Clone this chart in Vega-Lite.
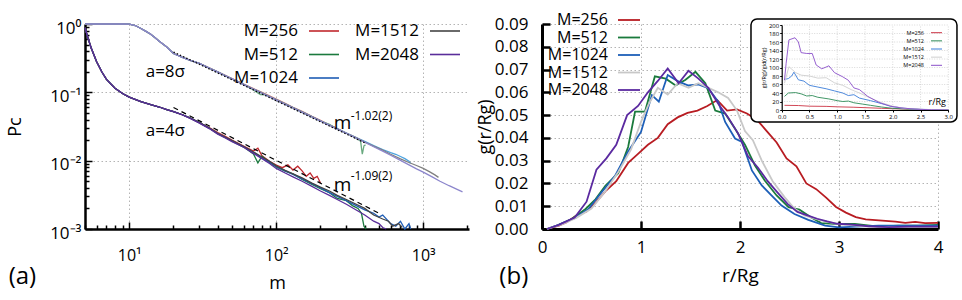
{
"$schema":"https://vega.github.io/schema/vega-lite/v6.json",
"background":"white",
"padding":{"left":6,"top":12,"right":0,"bottom":0},
"config":{"font":"Open Sans","view":{"stroke":null},
"axis":{"labelFont":"Open Sans","titleFont":"Open Sans","titleFontWeight":"normal","domainColor":"#000","tickColor":"#000","labelColor":"#000","titleColor":"#000","gridColor":"#b4b4b4","gridDash":[1.5,2.5],"gridWidth":1},
"legend":{"labelFont":"Open Sans","labelColor":"#000","padding":0},
"title":{"font":"Open Sans","fontWeight":"normal","color":"#000"}},
"datasets":{
"pc":[
{"a":"8","M":"M=256","m":5,"P":1},{"a":"8","M":"M=256","m":7,"P":1},{"a":"8","M":"M=256","m":9,"P":1},{"a":"8","M":"M=256","m":10,"P":0.995},{"a":"8","M":"M=256","m":11,"P":0.95},{"a":"8","M":"M=256","m":12,"P":0.86},{"a":"8","M":"M=256","m":13,"P":0.78},{"a":"8","M":"M=256","m":14,"P":0.71},{"a":"8","M":"M=256","m":15,"P":0.63},{"a":"8","M":"M=256","m":16,"P":0.56},{"a":"8","M":"M=256","m":18,"P":0.46},{"a":"8","M":"M=256","m":20,"P":0.372},{"a":"8","M":"M=256","m":23,"P":0.326},{"a":"8","M":"M=256","m":26,"P":0.294},{"a":"8","M":"M=256","m":30,"P":0.266},{"a":"8","M":"M=256","m":35,"P":0.228},{"a":"8","M":"M=256","m":40,"P":0.2},{"a":"8","M":"M=256","m":45,"P":0.177},{"a":"8","M":"M=256","m":50,"P":0.159},{"a":"8","M":"M=256","m":60,"P":0.132},{"a":"8","M":"M=256","m":70,"P":0.113},{"a":"8","M":"M=256","m":80,"P":0.1},{"a":"8","M":"M=256","m":90,"P":0.089},{"a":"8","M":"M=256","m":100,"P":0.0795},{"a":"8","M":"M=256","m":115,"P":0.069},{"a":"8","M":"M=256","m":130,"P":0.0605},{"a":"8","M":"M=256","m":150,"P":0.0525},{"a":"8","M":"M=256","m":175,"P":0.0445},{"a":"8","M":"M=256","m":200,"P":0.039},{"a":"8","M":"M=256","m":230,"P":0.0335},{"a":"8","M":"M=256","m":256,"P":0.03},
{"a":"8","M":"M=512","m":5,"P":1},{"a":"8","M":"M=512","m":7,"P":1},{"a":"8","M":"M=512","m":9,"P":1},{"a":"8","M":"M=512","m":10,"P":0.995},{"a":"8","M":"M=512","m":11,"P":0.95},{"a":"8","M":"M=512","m":12,"P":0.86},{"a":"8","M":"M=512","m":13,"P":0.78},{"a":"8","M":"M=512","m":14,"P":0.71},{"a":"8","M":"M=512","m":15,"P":0.63},{"a":"8","M":"M=512","m":16,"P":0.56},{"a":"8","M":"M=512","m":18,"P":0.46},{"a":"8","M":"M=512","m":20,"P":0.37},{"a":"8","M":"M=512","m":23,"P":0.325},{"a":"8","M":"M=512","m":26,"P":0.293},{"a":"8","M":"M=512","m":30,"P":0.265},{"a":"8","M":"M=512","m":35,"P":0.226},{"a":"8","M":"M=512","m":40,"P":0.198},{"a":"8","M":"M=512","m":45,"P":0.175},{"a":"8","M":"M=512","m":50,"P":0.157},{"a":"8","M":"M=512","m":60,"P":0.13},{"a":"8","M":"M=512","m":70,"P":0.108},{"a":"8","M":"M=512","m":78,"P":0.093},{"a":"8","M":"M=512","m":85,"P":0.092},{"a":"8","M":"M=512","m":100,"P":0.077},{"a":"8","M":"M=512","m":115,"P":0.067},{"a":"8","M":"M=512","m":130,"P":0.059},{"a":"8","M":"M=512","m":150,"P":0.051},{"a":"8","M":"M=512","m":175,"P":0.0436},{"a":"8","M":"M=512","m":200,"P":0.0378},{"a":"8","M":"M=512","m":230,"P":0.034},{"a":"8","M":"M=512","m":260,"P":0.0288},{"a":"8","M":"M=512","m":300,"P":0.0252},{"a":"8","M":"M=512","m":330,"P":0.0228},{"a":"8","M":"M=512","m":360,"P":0.0205},{"a":"8","M":"M=512","m":375,"P":0.0192},{"a":"8","M":"M=512","m":385,"P":0.0125},{"a":"8","M":"M=512","m":395,"P":0.0165},{"a":"8","M":"M=512","m":405,"P":0.017},
{"a":"8","M":"M=1024","m":5,"P":1},{"a":"8","M":"M=1024","m":7,"P":1},{"a":"8","M":"M=1024","m":9,"P":1},{"a":"8","M":"M=1024","m":10,"P":0.995},{"a":"8","M":"M=1024","m":11,"P":0.95},{"a":"8","M":"M=1024","m":12,"P":0.86},{"a":"8","M":"M=1024","m":13,"P":0.78},{"a":"8","M":"M=1024","m":14,"P":0.71},{"a":"8","M":"M=1024","m":15,"P":0.63},{"a":"8","M":"M=1024","m":16,"P":0.56},{"a":"8","M":"M=1024","m":18,"P":0.46},{"a":"8","M":"M=1024","m":20,"P":0.37},{"a":"8","M":"M=1024","m":23,"P":0.325},{"a":"8","M":"M=1024","m":26,"P":0.293},{"a":"8","M":"M=1024","m":30,"P":0.266},{"a":"8","M":"M=1024","m":35,"P":0.227},{"a":"8","M":"M=1024","m":40,"P":0.199},{"a":"8","M":"M=1024","m":45,"P":0.176},{"a":"8","M":"M=1024","m":50,"P":0.158},{"a":"8","M":"M=1024","m":60,"P":0.131},{"a":"8","M":"M=1024","m":70,"P":0.112},{"a":"8","M":"M=1024","m":80,"P":0.098},{"a":"8","M":"M=1024","m":90,"P":0.087},{"a":"8","M":"M=1024","m":100,"P":0.078},{"a":"8","M":"M=1024","m":115,"P":0.0677},{"a":"8","M":"M=1024","m":130,"P":0.0598},{"a":"8","M":"M=1024","m":150,"P":0.0517},{"a":"8","M":"M=1024","m":175,"P":0.0441},{"a":"8","M":"M=1024","m":200,"P":0.0384},{"a":"8","M":"M=1024","m":230,"P":0.0333},{"a":"8","M":"M=1024","m":260,"P":0.0294},{"a":"8","M":"M=1024","m":300,"P":0.0254},{"a":"8","M":"M=1024","m":350,"P":0.0217},{"a":"8","M":"M=1024","m":400,"P":0.0192},{"a":"8","M":"M=1024","m":460,"P":0.0166},{"a":"8","M":"M=1024","m":530,"P":0.0145},{"a":"8","M":"M=1024","m":600,"P":0.0131},{"a":"8","M":"M=1024","m":650,"P":0.0124},{"a":"8","M":"M=1024","m":700,"P":0.0115},{"a":"8","M":"M=1024","m":750,"P":0.0107},{"a":"8","M":"M=1024","m":800,"P":0.0098},{"a":"8","M":"M=1024","m":820,"P":0.0091},
{"a":"8","M":"M=1512","m":5,"P":1},{"a":"8","M":"M=1512","m":7,"P":1},{"a":"8","M":"M=1512","m":9,"P":1},{"a":"8","M":"M=1512","m":10,"P":0.995},{"a":"8","M":"M=1512","m":11,"P":0.95},{"a":"8","M":"M=1512","m":12,"P":0.86},{"a":"8","M":"M=1512","m":13,"P":0.78},{"a":"8","M":"M=1512","m":14,"P":0.71},{"a":"8","M":"M=1512","m":15,"P":0.63},{"a":"8","M":"M=1512","m":16,"P":0.56},{"a":"8","M":"M=1512","m":18,"P":0.46},{"a":"8","M":"M=1512","m":20,"P":0.37},{"a":"8","M":"M=1512","m":23,"P":0.325},{"a":"8","M":"M=1512","m":26,"P":0.293},{"a":"8","M":"M=1512","m":30,"P":0.266},{"a":"8","M":"M=1512","m":35,"P":0.227},{"a":"8","M":"M=1512","m":40,"P":0.199},{"a":"8","M":"M=1512","m":45,"P":0.176},{"a":"8","M":"M=1512","m":50,"P":0.158},{"a":"8","M":"M=1512","m":60,"P":0.131},{"a":"8","M":"M=1512","m":70,"P":0.112},{"a":"8","M":"M=1512","m":80,"P":0.098},{"a":"8","M":"M=1512","m":90,"P":0.087},{"a":"8","M":"M=1512","m":100,"P":0.078},{"a":"8","M":"M=1512","m":115,"P":0.0677},{"a":"8","M":"M=1512","m":130,"P":0.0598},{"a":"8","M":"M=1512","m":150,"P":0.0517},{"a":"8","M":"M=1512","m":175,"P":0.0441},{"a":"8","M":"M=1512","m":200,"P":0.0384},{"a":"8","M":"M=1512","m":230,"P":0.0333},{"a":"8","M":"M=1512","m":260,"P":0.0294},{"a":"8","M":"M=1512","m":300,"P":0.0254},{"a":"8","M":"M=1512","m":350,"P":0.0217},{"a":"8","M":"M=1512","m":400,"P":0.0187},{"a":"8","M":"M=1512","m":460,"P":0.0163},{"a":"8","M":"M=1512","m":530,"P":0.0143},{"a":"8","M":"M=1512","m":600,"P":0.0124},{"a":"8","M":"M=1512","m":700,"P":0.0106},{"a":"8","M":"M=1512","m":800,"P":0.0094},{"a":"8","M":"M=1512","m":900,"P":0.0085},{"a":"8","M":"M=1512","m":1000,"P":0.0077},{"a":"8","M":"M=1512","m":1100,"P":0.0069},{"a":"8","M":"M=1512","m":1200,"P":0.0062},{"a":"8","M":"M=1512","m":1270,"P":0.0057},
{"a":"8","M":"M=2048","m":5,"P":1},{"a":"8","M":"M=2048","m":7,"P":1},{"a":"8","M":"M=2048","m":9,"P":1},{"a":"8","M":"M=2048","m":10,"P":0.995},{"a":"8","M":"M=2048","m":11,"P":0.95},{"a":"8","M":"M=2048","m":12,"P":0.86},{"a":"8","M":"M=2048","m":13,"P":0.78},{"a":"8","M":"M=2048","m":14,"P":0.71},{"a":"8","M":"M=2048","m":15,"P":0.63},{"a":"8","M":"M=2048","m":16,"P":0.56},{"a":"8","M":"M=2048","m":18,"P":0.46},{"a":"8","M":"M=2048","m":20,"P":0.37},{"a":"8","M":"M=2048","m":23,"P":0.325},{"a":"8","M":"M=2048","m":26,"P":0.293},{"a":"8","M":"M=2048","m":30,"P":0.265},{"a":"8","M":"M=2048","m":35,"P":0.226},{"a":"8","M":"M=2048","m":40,"P":0.198},{"a":"8","M":"M=2048","m":45,"P":0.175},{"a":"8","M":"M=2048","m":50,"P":0.157},{"a":"8","M":"M=2048","m":60,"P":0.13},{"a":"8","M":"M=2048","m":70,"P":0.111},{"a":"8","M":"M=2048","m":80,"P":0.097},{"a":"8","M":"M=2048","m":90,"P":0.086},{"a":"8","M":"M=2048","m":100,"P":0.077},{"a":"8","M":"M=2048","m":115,"P":0.0668},{"a":"8","M":"M=2048","m":130,"P":0.059},{"a":"8","M":"M=2048","m":150,"P":0.051},{"a":"8","M":"M=2048","m":175,"P":0.0435},{"a":"8","M":"M=2048","m":200,"P":0.0379},{"a":"8","M":"M=2048","m":230,"P":0.0329},{"a":"8","M":"M=2048","m":260,"P":0.029},{"a":"8","M":"M=2048","m":300,"P":0.0252},{"a":"8","M":"M=2048","m":350,"P":0.0214},{"a":"8","M":"M=2048","m":400,"P":0.0186},{"a":"8","M":"M=2048","m":460,"P":0.016},{"a":"8","M":"M=2048","m":530,"P":0.0138},{"a":"8","M":"M=2048","m":600,"P":0.012},{"a":"8","M":"M=2048","m":700,"P":0.0101},{"a":"8","M":"M=2048","m":800,"P":0.0087},{"a":"8","M":"M=2048","m":900,"P":0.0076},{"a":"8","M":"M=2048","m":1000,"P":0.0068},{"a":"8","M":"M=2048","m":1150,"P":0.0058},{"a":"8","M":"M=2048","m":1300,"P":0.005},{"a":"8","M":"M=2048","m":1500,"P":0.0043},{"a":"8","M":"M=2048","m":1700,"P":0.0038},{"a":"8","M":"M=2048","m":1850,"P":0.0035},
{"a":"4","M":"M=256","m":5,"P":0.88},{"a":"4","M":"M=256","m":5.2,"P":0.66},{"a":"4","M":"M=256","m":5.5,"P":0.45},{"a":"4","M":"M=256","m":6,"P":0.28},{"a":"4","M":"M=256","m":6.5,"P":0.2},{"a":"4","M":"M=256","m":7,"P":0.155},{"a":"4","M":"M=256","m":8,"P":0.115},{"a":"4","M":"M=256","m":9,"P":0.096},{"a":"4","M":"M=256","m":10,"P":0.085},{"a":"4","M":"M=256","m":12,"P":0.073},{"a":"4","M":"M=256","m":14,"P":0.066},{"a":"4","M":"M=256","m":16,"P":0.061},{"a":"4","M":"M=256","m":18,"P":0.056},{"a":"4","M":"M=256","m":20,"P":0.052},{"a":"4","M":"M=256","m":23,"P":0.047},{"a":"4","M":"M=256","m":26,"P":0.042},{"a":"4","M":"M=256","m":30,"P":0.036},{"a":"4","M":"M=256","m":35,"P":0.0305},{"a":"4","M":"M=256","m":40,"P":0.0258},{"a":"4","M":"M=256","m":45,"P":0.0228},{"a":"4","M":"M=256","m":50,"P":0.02},{"a":"4","M":"M=256","m":60,"P":0.0163},{"a":"4","M":"M=256","m":70,"P":0.0138},{"a":"4","M":"M=256","m":75,"P":0.0152},{"a":"4","M":"M=256","m":80,"P":0.0118},{"a":"4","M":"M=256","m":90,"P":0.0098},{"a":"4","M":"M=256","m":100,"P":0.0086},{"a":"4","M":"M=256","m":110,"P":0.0079},{"a":"4","M":"M=256","m":120,"P":0.0087},{"a":"4","M":"M=256","m":130,"P":0.0073},{"a":"4","M":"M=256","m":140,"P":0.0083},{"a":"4","M":"M=256","m":150,"P":0.0071},{"a":"4","M":"M=256","m":160,"P":0.0059},{"a":"4","M":"M=256","m":170,"P":0.0066},{"a":"4","M":"M=256","m":180,"P":0.0055},{"a":"4","M":"M=256","m":190,"P":0.0059},{"a":"4","M":"M=256","m":200,"P":0.0047},
{"a":"4","M":"M=512","m":5,"P":0.88},{"a":"4","M":"M=512","m":5.2,"P":0.66},{"a":"4","M":"M=512","m":5.5,"P":0.45},{"a":"4","M":"M=512","m":6,"P":0.28},{"a":"4","M":"M=512","m":6.5,"P":0.2},{"a":"4","M":"M=512","m":7,"P":0.155},{"a":"4","M":"M=512","m":8,"P":0.115},{"a":"4","M":"M=512","m":9,"P":0.096},{"a":"4","M":"M=512","m":10,"P":0.085},{"a":"4","M":"M=512","m":12,"P":0.073},{"a":"4","M":"M=512","m":14,"P":0.066},{"a":"4","M":"M=512","m":16,"P":0.061},{"a":"4","M":"M=512","m":18,"P":0.056},{"a":"4","M":"M=512","m":20,"P":0.052},{"a":"4","M":"M=512","m":23,"P":0.047},{"a":"4","M":"M=512","m":26,"P":0.042},{"a":"4","M":"M=512","m":30,"P":0.036},{"a":"4","M":"M=512","m":35,"P":0.0298},{"a":"4","M":"M=512","m":40,"P":0.0248},{"a":"4","M":"M=512","m":45,"P":0.0218},{"a":"4","M":"M=512","m":50,"P":0.0193},{"a":"4","M":"M=512","m":60,"P":0.0158},{"a":"4","M":"M=512","m":70,"P":0.0125},{"a":"4","M":"M=512","m":75,"P":0.0093},{"a":"4","M":"M=512","m":80,"P":0.0116},{"a":"4","M":"M=512","m":90,"P":0.0094},{"a":"4","M":"M=512","m":100,"P":0.0081},{"a":"4","M":"M=512","m":115,"P":0.007},{"a":"4","M":"M=512","m":130,"P":0.0064},{"a":"4","M":"M=512","m":150,"P":0.0053},{"a":"4","M":"M=512","m":175,"P":0.0045},{"a":"4","M":"M=512","m":200,"P":0.0039},{"a":"4","M":"M=512","m":230,"P":0.0034},{"a":"4","M":"M=512","m":260,"P":0.0028},{"a":"4","M":"M=512","m":300,"P":0.0026},{"a":"4","M":"M=512","m":330,"P":0.0022},{"a":"4","M":"M=512","m":360,"P":0.002},{"a":"4","M":"M=512","m":380,"P":0.0017},{"a":"4","M":"M=512","m":395,"P":0.0011},{"a":"4","M":"M=512","m":410,"P":0.001},
{"a":"4","M":"M=1024","m":5,"P":0.88},{"a":"4","M":"M=1024","m":5.2,"P":0.66},{"a":"4","M":"M=1024","m":5.5,"P":0.45},{"a":"4","M":"M=1024","m":6,"P":0.28},{"a":"4","M":"M=1024","m":6.5,"P":0.2},{"a":"4","M":"M=1024","m":7,"P":0.155},{"a":"4","M":"M=1024","m":8,"P":0.115},{"a":"4","M":"M=1024","m":9,"P":0.096},{"a":"4","M":"M=1024","m":10,"P":0.085},{"a":"4","M":"M=1024","m":12,"P":0.073},{"a":"4","M":"M=1024","m":14,"P":0.066},{"a":"4","M":"M=1024","m":16,"P":0.061},{"a":"4","M":"M=1024","m":18,"P":0.056},{"a":"4","M":"M=1024","m":20,"P":0.052},{"a":"4","M":"M=1024","m":23,"P":0.047},{"a":"4","M":"M=1024","m":26,"P":0.042},{"a":"4","M":"M=1024","m":30,"P":0.036},{"a":"4","M":"M=1024","m":35,"P":0.03},{"a":"4","M":"M=1024","m":40,"P":0.025},{"a":"4","M":"M=1024","m":45,"P":0.022},{"a":"4","M":"M=1024","m":50,"P":0.0195},{"a":"4","M":"M=1024","m":60,"P":0.016},{"a":"4","M":"M=1024","m":70,"P":0.0133},{"a":"4","M":"M=1024","m":80,"P":0.011},{"a":"4","M":"M=1024","m":90,"P":0.0096},{"a":"4","M":"M=1024","m":100,"P":0.0082},{"a":"4","M":"M=1024","m":115,"P":0.0071},{"a":"4","M":"M=1024","m":130,"P":0.0063},{"a":"4","M":"M=1024","m":150,"P":0.0054},{"a":"4","M":"M=1024","m":175,"P":0.0046},{"a":"4","M":"M=1024","m":200,"P":0.004},{"a":"4","M":"M=1024","m":230,"P":0.0034},{"a":"4","M":"M=1024","m":260,"P":0.003},{"a":"4","M":"M=1024","m":300,"P":0.0026},{"a":"4","M":"M=1024","m":350,"P":0.0022},{"a":"4","M":"M=1024","m":400,"P":0.0019},{"a":"4","M":"M=1024","m":460,"P":0.0017},{"a":"4","M":"M=1024","m":500,"P":0.0015},{"a":"4","M":"M=1024","m":530,"P":0.0016},{"a":"4","M":"M=1024","m":600,"P":0.0012},{"a":"4","M":"M=1024","m":650,"P":0.0011},{"a":"4","M":"M=1024","m":700,"P":0.0013},{"a":"4","M":"M=1024","m":750,"P":0.001},{"a":"4","M":"M=1024","m":800,"P":0.0012},{"a":"4","M":"M=1024","m":820,"P":0.001},
{"a":"4","M":"M=1512","m":5,"P":0.88},{"a":"4","M":"M=1512","m":5.2,"P":0.66},{"a":"4","M":"M=1512","m":5.5,"P":0.45},{"a":"4","M":"M=1512","m":6,"P":0.28},{"a":"4","M":"M=1512","m":6.5,"P":0.2},{"a":"4","M":"M=1512","m":7,"P":0.155},{"a":"4","M":"M=1512","m":8,"P":0.115},{"a":"4","M":"M=1512","m":9,"P":0.096},{"a":"4","M":"M=1512","m":10,"P":0.085},{"a":"4","M":"M=1512","m":12,"P":0.073},{"a":"4","M":"M=1512","m":14,"P":0.066},{"a":"4","M":"M=1512","m":16,"P":0.061},{"a":"4","M":"M=1512","m":18,"P":0.056},{"a":"4","M":"M=1512","m":20,"P":0.052},{"a":"4","M":"M=1512","m":23,"P":0.047},{"a":"4","M":"M=1512","m":26,"P":0.042},{"a":"4","M":"M=1512","m":30,"P":0.036},{"a":"4","M":"M=1512","m":35,"P":0.03},{"a":"4","M":"M=1512","m":40,"P":0.025},{"a":"4","M":"M=1512","m":45,"P":0.022},{"a":"4","M":"M=1512","m":50,"P":0.0196},{"a":"4","M":"M=1512","m":60,"P":0.0161},{"a":"4","M":"M=1512","m":70,"P":0.0134},{"a":"4","M":"M=1512","m":80,"P":0.0113},{"a":"4","M":"M=1512","m":90,"P":0.0098},{"a":"4","M":"M=1512","m":100,"P":0.0084},{"a":"4","M":"M=1512","m":115,"P":0.0072},{"a":"4","M":"M=1512","m":130,"P":0.0064},{"a":"4","M":"M=1512","m":150,"P":0.0056},{"a":"4","M":"M=1512","m":175,"P":0.0047},{"a":"4","M":"M=1512","m":200,"P":0.0041},{"a":"4","M":"M=1512","m":230,"P":0.0036},{"a":"4","M":"M=1512","m":260,"P":0.0031},{"a":"4","M":"M=1512","m":300,"P":0.0027},{"a":"4","M":"M=1512","m":350,"P":0.0023},{"a":"4","M":"M=1512","m":400,"P":0.002},{"a":"4","M":"M=1512","m":460,"P":0.0016},{"a":"4","M":"M=1512","m":530,"P":0.0014},{"a":"4","M":"M=1512","m":580,"P":0.0013},{"a":"4","M":"M=1512","m":620,"P":0.0011},{"a":"4","M":"M=1512","m":680,"P":0.0012},{"a":"4","M":"M=1512","m":720,"P":0.00105},
{"a":"4","M":"M=2048","m":5,"P":0.88},{"a":"4","M":"M=2048","m":5.2,"P":0.66},{"a":"4","M":"M=2048","m":5.5,"P":0.45},{"a":"4","M":"M=2048","m":6,"P":0.28},{"a":"4","M":"M=2048","m":6.5,"P":0.2},{"a":"4","M":"M=2048","m":7,"P":0.155},{"a":"4","M":"M=2048","m":8,"P":0.115},{"a":"4","M":"M=2048","m":9,"P":0.096},{"a":"4","M":"M=2048","m":10,"P":0.085},{"a":"4","M":"M=2048","m":12,"P":0.073},{"a":"4","M":"M=2048","m":14,"P":0.066},{"a":"4","M":"M=2048","m":16,"P":0.061},{"a":"4","M":"M=2048","m":18,"P":0.056},{"a":"4","M":"M=2048","m":20,"P":0.052},{"a":"4","M":"M=2048","m":23,"P":0.0468},{"a":"4","M":"M=2048","m":26,"P":0.0415},{"a":"4","M":"M=2048","m":30,"P":0.0355},{"a":"4","M":"M=2048","m":35,"P":0.0295},{"a":"4","M":"M=2048","m":40,"P":0.0245},{"a":"4","M":"M=2048","m":45,"P":0.0215},{"a":"4","M":"M=2048","m":50,"P":0.019},{"a":"4","M":"M=2048","m":60,"P":0.0157},{"a":"4","M":"M=2048","m":70,"P":0.0128},{"a":"4","M":"M=2048","m":80,"P":0.0107},{"a":"4","M":"M=2048","m":90,"P":0.0091},{"a":"4","M":"M=2048","m":100,"P":0.0077},{"a":"4","M":"M=2048","m":115,"P":0.0066},{"a":"4","M":"M=2048","m":130,"P":0.0058},{"a":"4","M":"M=2048","m":150,"P":0.005},{"a":"4","M":"M=2048","m":175,"P":0.0042},{"a":"4","M":"M=2048","m":200,"P":0.0036},{"a":"4","M":"M=2048","m":230,"P":0.0031},{"a":"4","M":"M=2048","m":260,"P":0.0027},{"a":"4","M":"M=2048","m":300,"P":0.0023},{"a":"4","M":"M=2048","m":350,"P":0.0019},{"a":"4","M":"M=2048","m":400,"P":0.0016},{"a":"4","M":"M=2048","m":460,"P":0.0013},{"a":"4","M":"M=2048","m":500,"P":0.0012},{"a":"4","M":"M=2048","m":530,"P":0.00105},{"a":"4","M":"M=2048","m":560,"P":0.001}
],
"fits":[{"fit":"dot","m":20,"P":0.39},{"fit":"dot","m":410,"P":0.0178},{"fit":"dash","m":20,"P":0.06},{"fit":"dash","m":500,"P":0.0017}],
"ann":[{"m":17.6,"P":0.2,"t":"a=8σ","k":"a"},{"m":17.6,"P":0.027,"t":"a=4σ","k":"a"},{"m":283,"P":0.0355,"t":"m","k":"m"},{"m":283,"P":0.0044,"t":"m","k":"m"},{"m":321,"P":0.0445,"t":"-1.02(2)","k":"e"},{"m":321,"P":0.0059,"t":"-1.09(2)","k":"e"}],
"gr":[
{"M":"M=256","r":0.05,"g":0},{"M":"M=256","r":0.17,"g":0.0015},{"M":"M=256","r":0.25,"g":0.003},{"M":"M=256","r":0.35,"g":0.006},{"M":"M=256","r":0.45,"g":0.0077},{"M":"M=256","r":0.55,"g":0.012},{"M":"M=256","r":0.65,"g":0.017},{"M":"M=256","r":0.75,"g":0.021},{"M":"M=256","r":0.87,"g":0.029},{"M":"M=256","r":0.97,"g":0.033},{"M":"M=256","r":1.07,"g":0.037},{"M":"M=256","r":1.17,"g":0.04},{"M":"M=256","r":1.27,"g":0.046},{"M":"M=256","r":1.37,"g":0.049},{"M":"M=256","r":1.47,"g":0.051},{"M":"M=256","r":1.57,"g":0.052},{"M":"M=256","r":1.67,"g":0.054},{"M":"M=256","r":1.77,"g":0.0566},{"M":"M=256","r":1.87,"g":0.052},{"M":"M=256","r":1.97,"g":0.0525},{"M":"M=256","r":2.07,"g":0.0507},{"M":"M=256","r":2.17,"g":0.048},{"M":"M=256","r":2.27,"g":0.043},{"M":"M=256","r":2.37,"g":0.038},{"M":"M=256","r":2.47,"g":0.031},{"M":"M=256","r":2.57,"g":0.0275},{"M":"M=256","r":2.67,"g":0.02},{"M":"M=256","r":2.77,"g":0.0175},{"M":"M=256","r":2.87,"g":0.0138},{"M":"M=256","r":2.97,"g":0.0097},{"M":"M=256","r":3.07,"g":0.0072},{"M":"M=256","r":3.17,"g":0.0052},{"M":"M=256","r":3.27,"g":0.0042},{"M":"M=256","r":3.37,"g":0.0039},{"M":"M=256","r":3.47,"g":0.0036},{"M":"M=256","r":3.57,"g":0.0032},{"M":"M=256","r":3.67,"g":0.0027},{"M":"M=256","r":3.77,"g":0.0031},{"M":"M=256","r":3.87,"g":0.0026},{"M":"M=256","r":4,"g":0.0027},
{"M":"M=512","r":0.05,"g":0},{"M":"M=512","r":0.15,"g":0.0015},{"M":"M=512","r":0.3,"g":0.0044},{"M":"M=512","r":0.44,"g":0.0088},{"M":"M=512","r":0.54,"g":0.013},{"M":"M=512","r":0.64,"g":0.019},{"M":"M=512","r":0.77,"g":0.0245},{"M":"M=512","r":0.87,"g":0.036},{"M":"M=512","r":0.94,"g":0.0515},{"M":"M=512","r":1.04,"g":0.0515},{"M":"M=512","r":1.14,"g":0.067},{"M":"M=512","r":1.25,"g":0.066},{"M":"M=512","r":1.35,"g":0.063},{"M":"M=512","r":1.45,"g":0.0655},{"M":"M=512","r":1.55,"g":0.069},{"M":"M=512","r":1.65,"g":0.064},{"M":"M=512","r":1.75,"g":0.052},{"M":"M=512","r":1.85,"g":0.0507},{"M":"M=512","r":1.95,"g":0.044},{"M":"M=512","r":2.05,"g":0.037},{"M":"M=512","r":2.15,"g":0.028},{"M":"M=512","r":2.25,"g":0.0213},{"M":"M=512","r":2.37,"g":0.0147},{"M":"M=512","r":2.49,"g":0.0096},{"M":"M=512","r":2.6,"g":0.0085},{"M":"M=512","r":2.72,"g":0.0051},{"M":"M=512","r":2.82,"g":0.0026},{"M":"M=512","r":3,"g":0.0022},{"M":"M=512","r":3.16,"g":0.0022},{"M":"M=512","r":3.4,"g":0.001},{"M":"M=512","r":3.6,"g":0.0015},{"M":"M=512","r":3.8,"g":0.0015},{"M":"M=512","r":4,"g":0.0018},
{"M":"M=1024","r":0.05,"g":0},{"M":"M=1024","r":0.17,"g":0.0018},{"M":"M=1024","r":0.34,"g":0.005},{"M":"M=1024","r":0.47,"g":0.0088},{"M":"M=1024","r":0.6,"g":0.016},{"M":"M=1024","r":0.74,"g":0.0235},{"M":"M=1024","r":0.87,"g":0.034},{"M":"M=1024","r":1,"g":0.0426},{"M":"M=1024","r":1.11,"g":0.0588},{"M":"M=1024","r":1.18,"g":0.0559},{"M":"M=1024","r":1.27,"g":0.0676},{"M":"M=1024","r":1.38,"g":0.0647},{"M":"M=1024","r":1.48,"g":0.063},{"M":"M=1024","r":1.58,"g":0.0635},{"M":"M=1024","r":1.68,"g":0.0618},{"M":"M=1024","r":1.78,"g":0.0559},{"M":"M=1024","r":1.85,"g":0.047},{"M":"M=1024","r":1.95,"g":0.0397},{"M":"M=1024","r":2.02,"g":0.0382},{"M":"M=1024","r":2.12,"g":0.0257},{"M":"M=1024","r":2.22,"g":0.0191},{"M":"M=1024","r":2.32,"g":0.0147},{"M":"M=1024","r":2.42,"g":0.0103},{"M":"M=1024","r":2.55,"g":0.0066},{"M":"M=1024","r":2.69,"g":0.004},{"M":"M=1024","r":2.86,"g":0.0015},{"M":"M=1024","r":3,"g":0.0007},{"M":"M=1024","r":3.4,"g":0.0015},{"M":"M=1024","r":3.73,"g":0.0015},{"M":"M=1024","r":4,"g":0.0015},
{"M":"M=1512","r":0.05,"g":0},{"M":"M=1512","r":0.2,"g":0.002},{"M":"M=1512","r":0.35,"g":0.005},{"M":"M=1512","r":0.5,"g":0.009},{"M":"M=1512","r":0.63,"g":0.016},{"M":"M=1512","r":0.77,"g":0.025},{"M":"M=1512","r":0.9,"g":0.035},{"M":"M=1512","r":1,"g":0.047},{"M":"M=1512","r":1.08,"g":0.055},{"M":"M=1512","r":1.17,"g":0.062},{"M":"M=1512","r":1.27,"g":0.059},{"M":"M=1512","r":1.37,"g":0.064},{"M":"M=1512","r":1.48,"g":0.062},{"M":"M=1512","r":1.58,"g":0.064},{"M":"M=1512","r":1.68,"g":0.062},{"M":"M=1512","r":1.78,"g":0.06},{"M":"M=1512","r":1.88,"g":0.0575},{"M":"M=1512","r":1.97,"g":0.052},{"M":"M=1512","r":2.05,"g":0.043},{"M":"M=1512","r":2.13,"g":0.039},{"M":"M=1512","r":2.22,"g":0.03},{"M":"M=1512","r":2.33,"g":0.021},{"M":"M=1512","r":2.45,"g":0.014},{"M":"M=1512","r":2.55,"g":0.009},{"M":"M=1512","r":2.65,"g":0.006},{"M":"M=1512","r":2.8,"g":0.004},{"M":"M=1512","r":3,"g":0.002},{"M":"M=1512","r":3.3,"g":0.001},{"M":"M=1512","r":3.6,"g":0.0008},{"M":"M=1512","r":4,"g":0.0008},
{"M":"M=2048","r":0.05,"g":0},{"M":"M=2048","r":0.17,"g":0.0018},{"M":"M=2048","r":0.33,"g":0.005},{"M":"M=2048","r":0.45,"g":0.012},{"M":"M=2048","r":0.55,"g":0.026},{"M":"M=2048","r":0.65,"g":0.031},{"M":"M=2048","r":0.75,"g":0.037},{"M":"M=2048","r":0.86,"g":0.05},{"M":"M=2048","r":0.97,"g":0.054},{"M":"M=2048","r":1.07,"g":0.06},{"M":"M=2048","r":1.17,"g":0.065},{"M":"M=2048","r":1.27,"g":0.0705},{"M":"M=2048","r":1.38,"g":0.064},{"M":"M=2048","r":1.48,"g":0.0695},{"M":"M=2048","r":1.58,"g":0.066},{"M":"M=2048","r":1.68,"g":0.062},{"M":"M=2048","r":1.78,"g":0.055},{"M":"M=2048","r":1.88,"g":0.049},{"M":"M=2048","r":1.98,"g":0.042},{"M":"M=2048","r":2.08,"g":0.032},{"M":"M=2048","r":2.18,"g":0.027},{"M":"M=2048","r":2.28,"g":0.021},{"M":"M=2048","r":2.38,"g":0.016},{"M":"M=2048","r":2.48,"g":0.011},{"M":"M=2048","r":2.58,"g":0.0075},{"M":"M=2048","r":2.68,"g":0.006},{"M":"M=2048","r":2.78,"g":0.0045},{"M":"M=2048","r":2.88,"g":0.0033},{"M":"M=2048","r":2.98,"g":0.0023},{"M":"M=2048","r":3.1,"g":0.002},{"M":"M=2048","r":3.3,"g":0.0012},{"M":"M=2048","r":3.5,"g":0.0008},{"M":"M=2048","r":3.7,"g":0.001},{"M":"M=2048","r":4,"g":0.001}
],
"gi":[
{"M":"M=256","r":0.05,"v":11},{"M":"M=256","r":0.3,"v":10.5},{"M":"M=256","r":0.5,"v":9},{"M":"M=256","r":0.8,"v":8.5},{"M":"M=256","r":1,"v":7.5},{"M":"M=256","r":1.3,"v":6.5},{"M":"M=256","r":1.5,"v":5.5},{"M":"M=256","r":1.8,"v":4},{"M":"M=256","r":2,"v":3},{"M":"M=256","r":2.3,"v":2},{"M":"M=256","r":2.6,"v":1},{"M":"M=256","r":3,"v":0.5},
{"M":"M=512","r":0.05,"v":32},{"M":"M=512","r":0.12,"v":40},{"M":"M=512","r":0.25,"v":41},{"M":"M=512","r":0.35,"v":38},{"M":"M=512","r":0.45,"v":33},{"M":"M=512","r":0.55,"v":34},{"M":"M=512","r":0.65,"v":30},{"M":"M=512","r":0.85,"v":26},{"M":"M=512","r":1,"v":22},{"M":"M=512","r":1.1,"v":20},{"M":"M=512","r":1.2,"v":21},{"M":"M=512","r":1.3,"v":17},{"M":"M=512","r":1.45,"v":14},{"M":"M=512","r":1.6,"v":11},{"M":"M=512","r":1.8,"v":7},{"M":"M=512","r":2,"v":4},{"M":"M=512","r":2.2,"v":2.5},{"M":"M=512","r":2.5,"v":1},{"M":"M=512","r":3,"v":0.3},
{"M":"M=1024","r":0.05,"v":72},{"M":"M=1024","r":0.12,"v":74},{"M":"M=1024","r":0.18,"v":80},{"M":"M=1024","r":0.22,"v":89},{"M":"M=1024","r":0.3,"v":71},{"M":"M=1024","r":0.4,"v":68},{"M":"M=1024","r":0.5,"v":58},{"M":"M=1024","r":0.65,"v":54},{"M":"M=1024","r":0.8,"v":50},{"M":"M=1024","r":0.95,"v":45},{"M":"M=1024","r":1.1,"v":40},{"M":"M=1024","r":1.2,"v":34},{"M":"M=1024","r":1.3,"v":36},{"M":"M=1024","r":1.4,"v":28},{"M":"M=1024","r":1.6,"v":22},{"M":"M=1024","r":1.8,"v":15},{"M":"M=1024","r":2,"v":8},{"M":"M=1024","r":2.2,"v":4},{"M":"M=1024","r":2.5,"v":1.5},{"M":"M=1024","r":3,"v":0.3},
{"M":"M=1512","r":0.05,"v":63},{"M":"M=1512","r":0.13,"v":102},{"M":"M=1512","r":0.25,"v":88},{"M":"M=1512","r":0.35,"v":82},{"M":"M=1512","r":0.5,"v":80},{"M":"M=1512","r":0.65,"v":75},{"M":"M=1512","r":0.8,"v":76},{"M":"M=1512","r":0.95,"v":64},{"M":"M=1512","r":1.1,"v":58},{"M":"M=1512","r":1.25,"v":48},{"M":"M=1512","r":1.4,"v":40},{"M":"M=1512","r":1.6,"v":28},{"M":"M=1512","r":1.8,"v":17},{"M":"M=1512","r":2,"v":9},{"M":"M=1512","r":2.2,"v":4},{"M":"M=1512","r":2.5,"v":1.5},{"M":"M=1512","r":3,"v":0.3},
{"M":"M=2048","r":0.05,"v":70},{"M":"M=2048","r":0.08,"v":110},{"M":"M=2048","r":0.13,"v":165},{"M":"M=2048","r":0.24,"v":170},{"M":"M=2048","r":0.3,"v":160},{"M":"M=2048","r":0.35,"v":135},{"M":"M=2048","r":0.45,"v":133},{"M":"M=2048","r":0.55,"v":133},{"M":"M=2048","r":0.62,"v":106},{"M":"M=2048","r":0.72,"v":97},{"M":"M=2048","r":0.78,"v":100},{"M":"M=2048","r":0.85,"v":104},{"M":"M=2048","r":0.95,"v":88},{"M":"M=2048","r":1.1,"v":78},{"M":"M=2048","r":1.2,"v":70},{"M":"M=2048","r":1.3,"v":52},{"M":"M=2048","r":1.4,"v":48},{"M":"M=2048","r":1.55,"v":32},{"M":"M=2048","r":1.75,"v":18},{"M":"M=2048","r":1.95,"v":9},{"M":"M=2048","r":2.15,"v":5},{"M":"M=2048","r":2.4,"v":2},{"M":"M=2048","r":2.7,"v":0.5},{"M":"M=2048","r":3,"v":0}
],
"igx":[{"x":0.5},{"x":1},{"x":1.5},{"x":2},{"x":2.5},{"x":3}],
"igy":[{"y":20},{"y":40},{"y":60},{"y":80},{"y":100},{"y":120},{"y":140},{"y":160},{"y":180},{"y":200}]
},
"spacing":7,
"resolve":{"scale":{"color":"independent"}},
"hconcat":[
{
"width":384,"height":205,
"title":{"text":"(a)","orient":"bottom","anchor":"start","frame":"bounds","fontSize":24,"offset":-27,"dx":2},
"resolve":{"scale":{"color":"independent"}},
"layer":[
{"data":{"name":"pc"},"transform":[{"filter":"datum.a=='8'"}],"mark":{"type":"line","strokeWidth":1.3},
"encoding":{
"x":{"field":"m","type":"quantitative","scale":{"type":"log","domain":[5,2048],"nice":false},
"axis":{"title":"m","titleFontSize":18,"titlePadding":8,"labelFontSize":16,"labelPadding":25,"labelOverlap":false,"labelFlush":false,
"labelExpr":"abs(datum.value-10)<1e-6 ? '10¹' : abs(datum.value-100)<1e-6 ? '10²' : abs(datum.value-1000)<1e-6 ? '10³' : ''",
"tickSize":{"condition":{"test":"abs(log(datum.value)/LN10 - round(log(datum.value)/LN10)) < 0.0001","value":-7},"value":-4},
"tickWidth":1.5,"domainWidth":2.5,"grid":true,
"gridOpacity":{"condition":{"test":"abs(log(datum.value)/LN10 - round(log(datum.value)/LN10)) < 0.0001","value":1},"value":0}}},
"y":{"field":"P","type":"quantitative","scale":{"type":"log","domain":[0.001,1],"nice":false},
"axis":{"title":"Pc","titleFontSize":18,"titlePadding":25,"labelFontSize":17,"labelPadding":11,"labelOffset":4,"labelOverlap":false,"labelFlush":false,
"labelExpr":"abs(datum.value-1)<1e-9 ? '10⁰' : abs(datum.value-0.1)<1e-9 ? '10⁻¹' : abs(datum.value-0.01)<1e-9 ? '10⁻²' : abs(datum.value-0.001)<1e-9 ? '10⁻³' : ''",
"tickSize":{"condition":{"test":"abs(log(datum.value)/LN10 - round(log(datum.value)/LN10)) < 0.0001","value":-7},"value":-4},
"tickWidth":1.5,"domainWidth":2.5,"grid":true,
"gridOpacity":{"condition":{"test":"abs(log(datum.value)/LN10 - round(log(datum.value)/LN10)) < 0.0001","value":1},"value":0}}},
"color":{"field":"M","type":"nominal","scale":{"domain":["M=256","M=512","M=1024","M=1512","M=2048"],"range":["#e07a70","#6aaa80","#4da3df","#808080","#8c86cc"]},"legend":null}}},
{"data":{"name":"pc"},"transform":[{"filter":"datum.a=='4'"}],"mark":{"type":"line","strokeWidth":1.3},
"encoding":{
"x":{"field":"m","type":"quantitative"},
"y":{"field":"P","type":"quantitative"},
"color":{"field":"M","type":"nominal","scale":{"domain":["M=256","M=512","M=1024","M=1512","M=2048"],"range":["#c0272d","#1b7a3e","#1f5db5","#444444","#5a2d9a"]},
"legend":{"title":null,"orient":"none","legendX":228,"legendY":-4,"columns":2,"columnPadding":12,"rowPadding":4.5,"symbolType":"M-1.5,0H1.5","symbolSize":400,"symbolStrokeWidth":1.6,"labelAlign":"right","labelOffset":-37,"labelFontSize":17,"labelLimit":200}}}},
{"data":{"name":"fits"},"mark":{"type":"line","color":"#000","strokeWidth":1.2},
"encoding":{"x":{"field":"m","type":"quantitative"},"y":{"field":"P","type":"quantitative"},"detail":{"field":"fit"},
"strokeDash":{"field":"fit","type":"nominal","scale":{"domain":["dot","dash"],"range":[[1.5,2],[5,4]]},"legend":null}}},
{"data":{"name":"ann"},"transform":[{"filter":"datum.k=='a'"}],"mark":{"type":"text","fontSize":17,"align":"center","baseline":"middle","font":"Open Sans"},
"encoding":{"x":{"field":"m","type":"quantitative"},"y":{"field":"P","type":"quantitative"},"text":{"field":"t"}}},
{"data":{"name":"ann"},"transform":[{"filter":"datum.k=='m'"}],"mark":{"type":"text","fontSize":19,"align":"center","baseline":"middle","font":"Open Sans"},
"encoding":{"x":{"field":"m","type":"quantitative"},"y":{"field":"P","type":"quantitative"},"text":{"field":"t"}}},
{"data":{"name":"ann"},"transform":[{"filter":"datum.k=='e'"}],"mark":{"type":"text","fontSize":12,"align":"left","baseline":"middle","font":"Open Sans"},
"encoding":{"x":{"field":"m","type":"quantitative"},"y":{"field":"P","type":"quantitative"},"text":{"field":"t"}}}
]
},
{
"width":396,"height":205,
"title":{"text":"(b)","orient":"bottom","anchor":"start","frame":"bounds","fontSize":24,"offset":-20,"dx":23},
"resolve":{"scale":{"x":"independent","y":"independent","color":"independent"}},
"layer":[
{"data":{"name":"gr"},"mark":{"type":"line","strokeWidth":1.8},
"encoding":{
"x":{"field":"r","type":"quantitative","scale":{"domain":[0,4],"nice":false},
"axis":{"title":"r/Rg","titleFontSize":19,"titlePadding":11,"labelFontSize":17,"labelPadding":18,"values":[0,1,2,3,4],"format":"d","tickSize":-8,"tickWidth":2.5,"domainWidth":3,"grid":true,"labelFlush":false}},
"y":{"field":"g","type":"quantitative","scale":{"domain":[0,0.09],"nice":false},
"axis":{"title":"g(r/Rg)","titleFontSize":18,"titlePadding":0,"labelFontSize":17,"labelPadding":22,"values":[0,0.01,0.02,0.03,0.04,0.05,0.06,0.07,0.08,0.09],"format":".2f","tickSize":-8,"tickWidth":2.5,"domainWidth":3,"grid":true,"labelFlush":false}},
"color":{"field":"M","type":"nominal","scale":{"domain":["M=256","M=512","M=1024","M=1512","M=2048"],"range":["#b81c22","#1a7a3c","#1d5fb8","#c8c8c8","#5b2aa0"]},
"legend":{"title":null,"orient":"none","legendX":79,"legendY":-12,"rowPadding":1.5,"symbolType":"M-2.2,0H2.2","symbolSize":100,"symbolStrokeWidth":1.8,"labelAlign":"right","labelOffset":-29,"labelFontSize":16,"labelLimit":200}}}},
{"layer":[
{"data":{"values":[{}]},"mark":{"type":"rect","fill":"white","stroke":"#000","strokeWidth":1.5,"cornerRadius":6},
"encoding":{"x":{"datum":-0.553,"type":"quantitative","scale":{"domain":[0,3],"range":[239.7,406.3],"nice":false,"zero":false},"axis":{"orient":"bottom","offset":-119,"title":null,"values":[0,0.5,1,1.5,2,2.5,3],"format":".1f","labelFontSize":6,"labelPadding":1,"tickSize":2,"tickWidth":1,"domainWidth":1.2,"grid":false,"zindex":2,"labelFlush":false}},"x2":{"datum":3.156},
"y":{"datum":-28,"type":"quantitative","scale":{"domain":[0,200],"range":[86,1],"nice":false,"zero":false},"axis":{"orient":"left","offset":-239.7,"title":"g(r/Rg)/gid(r/Rg)","titleFontSize":5.5,"titlePadding":2,"values":[0,20,40,60,80,100,120,140,160,180,200],"labelFontSize":6,"labelPadding":1,"tickSize":2,"tickWidth":1,"domainWidth":1.2,"grid":false,"zindex":2,"labelFlush":false}},"y2":{"datum":214}}},
{"data":{"name":"igx"},"mark":{"type":"rule","color":"#c8c8c8","strokeDash":[1,1.5],"strokeWidth":0.7},
"encoding":{"x":{"field":"x","type":"quantitative","scale":{"domain":[0,3],"range":[239.7,406.3],"nice":false,"zero":false},"axis":{"orient":"bottom","offset":-119,"title":null,"values":[0,0.5,1,1.5,2,2.5,3],"format":".1f","labelFontSize":6,"labelPadding":1,"tickSize":2,"tickWidth":1,"domainWidth":1.2,"grid":false,"zindex":2,"labelFlush":false}},"y":{"datum":0,"type":"quantitative","scale":{"domain":[0,200],"range":[86,1],"nice":false,"zero":false},"axis":{"orient":"left","offset":-239.7,"title":"g(r/Rg)/gid(r/Rg)","titleFontSize":5.5,"titlePadding":2,"values":[0,20,40,60,80,100,120,140,160,180,200],"labelFontSize":6,"labelPadding":1,"tickSize":2,"tickWidth":1,"domainWidth":1.2,"grid":false,"zindex":2,"labelFlush":false}},"y2":{"datum":200}}},
{"data":{"name":"igy"},"mark":{"type":"rule","color":"#c8c8c8","strokeDash":[1,1.5],"strokeWidth":0.7},
"encoding":{"y":{"field":"y","type":"quantitative","scale":{"domain":[0,200],"range":[86,1],"nice":false,"zero":false},"axis":{"orient":"left","offset":-239.7,"title":"g(r/Rg)/gid(r/Rg)","titleFontSize":5.5,"titlePadding":2,"values":[0,20,40,60,80,100,120,140,160,180,200],"labelFontSize":6,"labelPadding":1,"tickSize":2,"tickWidth":1,"domainWidth":1.2,"grid":false,"zindex":2,"labelFlush":false}},"x":{"datum":0,"type":"quantitative","scale":{"domain":[0,3],"range":[239.7,406.3],"nice":false,"zero":false},"axis":{"orient":"bottom","offset":-119,"title":null,"values":[0,0.5,1,1.5,2,2.5,3],"format":".1f","labelFontSize":6,"labelPadding":1,"tickSize":2,"tickWidth":1,"domainWidth":1.2,"grid":false,"zindex":2,"labelFlush":false}},"x2":{"datum":3}}},
{"data":{"name":"gi"},"mark":{"type":"line","strokeWidth":0.9},
"encoding":{
"x":{"field":"r","type":"quantitative","scale":{"domain":[0,3],"range":[239.7,406.3],"nice":false,"zero":false},
"axis":{"orient":"bottom","offset":-119,"title":null,"values":[0,0.5,1,1.5,2,2.5,3],"format":".1f","labelFontSize":6,"labelPadding":1,"tickSize":2,"tickWidth":1,"domainWidth":1.2,"grid":false,"zindex":2,"labelFlush":false}},
"y":{"field":"v","type":"quantitative","scale":{"domain":[0,200],"range":[86,1],"nice":false,"zero":false},
"axis":{"orient":"left","offset":-239.7,"title":"g(r/Rg)/gid(r/Rg)","titleFontSize":5.5,"titlePadding":2,"values":[0,20,40,60,80,100,120,140,160,180,200],"labelFontSize":6,"labelPadding":1,"tickSize":2,"tickWidth":1,"domainWidth":1.2,"grid":false,"zindex":2,"labelFlush":false}},
"color":{"field":"M","type":"nominal","scale":{"domain":["M=256","M=512","M=1024","M=1512","M=2048"],"range":["#cc3344","#2e8b57","#3b7dd8","#cfcfcf","#8a4fc9"]},
"legend":{"title":null,"orient":"none","legendX":391.75,"legendY":5.95,"rowPadding":1.15,"symbolType":"M-2.75,0H2.75","symbolSize":16,"symbolStrokeWidth":1,"labelAlign":"right","labelOffset":-15.25,"labelFontSize":5.5,"labelLimit":100}}}},
{"data":{"values":[{}]},"mark":{"type":"text","text":"r/Rg","fontSize":9,"align":"center","baseline":"middle","font":"Open Sans"},
"encoding":{"x":{"datum":2.8,"type":"quantitative","scale":{"domain":[0,3],"range":[239.7,406.3],"nice":false,"zero":false},"axis":{"orient":"bottom","offset":-119,"title":null,"values":[0,0.5,1,1.5,2,2.5,3],"format":".1f","labelFontSize":6,"labelPadding":1,"tickSize":2,"tickWidth":1,"domainWidth":1.2,"grid":false,"zindex":2,"labelFlush":false}},"y":{"datum":19,"type":"quantitative","scale":{"domain":[0,200],"range":[86,1],"nice":false,"zero":false},"axis":{"orient":"left","offset":-239.7,"title":"g(r/Rg)/gid(r/Rg)","titleFontSize":5.5,"titlePadding":2,"values":[0,20,40,60,80,100,120,140,160,180,200],"labelFontSize":6,"labelPadding":1,"tickSize":2,"tickWidth":1,"domainWidth":1.2,"grid":false,"zindex":2,"labelFlush":false}}}}
]}
]
}
]
}
